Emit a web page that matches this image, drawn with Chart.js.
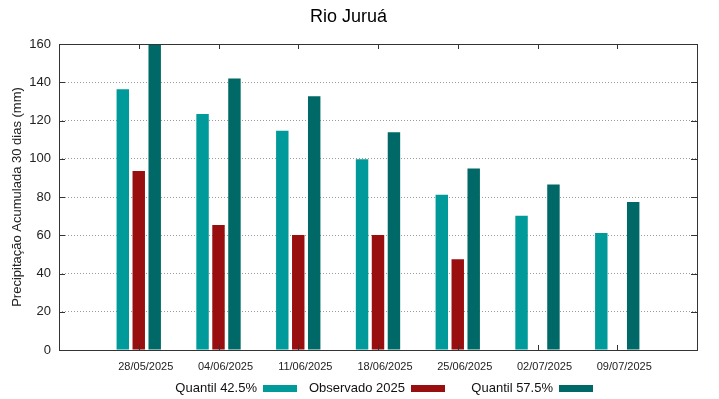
<!DOCTYPE html>
<html>
<head>
<meta charset="utf-8">
<script src="https://cdn.jsdelivr.net/npm/chart.js"></script>
<style>
  html, body { margin: 0; padding: 0; background: #fff; }
  #wrap { width: 719px; height: 399px; }
</style>
</head>
<body>
<div id="wrap"><canvas id="chart" width="719" height="399"></canvas></div>
<script>
// =============== data ===============
const dates      = ["28/05/2025","04/06/2025","11/06/2025","18/06/2025","25/06/2025","02/07/2025","09/07/2025"];
const quantil425 = [136.3, 123.4, 114.6, 99.7, 81.2, 70.2, 61.2];
const observado  = [93.6, 65.4, 60.1, 60.1, 47.4, null, null];
const quantil575 = [159.5, 142.0, 132.7, 113.8, 94.9, 86.6, 77.4];
const yTicks     = [0, 20, 40, 60, 80, 100, 120, 140, 160];

const FONT = "'Liberation Sans', Arial, sans-serif";
const toPoints = arr => arr.map((v, i) => ({ x: i, y: v }));

// frame, inward tick marks and gnuplot-like legend (text then sample)
const gnuplotDecor = {
  id: "gnuplotDecor",
  afterDraw(chart) {
    const { ctx, chartArea: a, scales } = chart;
    ctx.save();
    ctx.strokeStyle = "#333";
    ctx.lineWidth = 1;
    ctx.setLineDash([]);
    ctx.strokeRect(Math.round(a.left) + 0.5, Math.round(a.top) + 0.5,
                   Math.round(a.right - a.left), Math.round(a.bottom - a.top));
    ctx.beginPath();
    yTicks.forEach(v => {
      const y = Math.round(scales.y.getPixelForValue(v)) + 0.5;
      ctx.moveTo(a.left, y);  ctx.lineTo(a.left + 6, y);
      ctx.moveTo(a.right, y); ctx.lineTo(a.right - 6, y);
    });
    dates.forEach((d, i) => {
      const x = Math.round(scales.x.getPixelForValue(i)) + 0.5;
      ctx.moveTo(x, a.top);    ctx.lineTo(x, a.top + 5);
      ctx.moveTo(x, a.bottom); ctx.lineTo(x, a.bottom - 5);
    });
    ctx.stroke();

    // legend
    ctx.font = "13px " + FONT;
    ctx.textBaseline = "middle";
    ctx.textAlign = "right";
    const ly = 388;
    chart.data.datasets.forEach((ds, i) => {
      const boxRight = a.left + 238 + i * 148;
      const boxLeft = boxRight - 34;
      ctx.fillStyle = "#111";
      ctx.fillText(ds.label, boxLeft - 6, ly);
      ctx.fillStyle = ds.backgroundColor;
      ctx.fillRect(boxLeft, ly - 3, 34, 7);
    });
    ctx.restore();
  }
};

const ctx = document.getElementById("chart").getContext("2d");
new Chart(ctx, {
  type: "bar",
  data: {
    datasets: [
      { label: "Quantil 42.5%",  data: toPoints(quantil425), backgroundColor: "#009a9a" },
      { label: "Observado 2025", data: toPoints(observado),  backgroundColor: "#990f0f" },
      { label: "Quantil 57.5%",  data: toPoints(quantil575), backgroundColor: "#006866" },
    ],
  },
  options: {
    responsive: false,
    animation: false,
    categoryPercentage: 0.6,
    barPercentage: 0.78,
    layout: { padding: { left: 0, right: 22, top: 0, bottom: 0 } },
    plugins: {
      legend: { display: false },
      tooltip: { enabled: false },
      title: {
        display: true, text: "Rio Juruá", color: "#000",
        font: { family: FONT, size: 18, weight: "normal" },
        padding: { top: 6, bottom: 16.4 },
      },
    },
    scales: {
      x: {
        type: "linear", min: -1, max: 7, offset: false,
        grid: { display: false, drawTicks: false, offset: false },
        border: { display: false },
        afterFit(scale) { scale.height = 49; },
        afterBuildTicks(scale) { scale.ticks = dates.map((d, i) => ({ value: i })); },
        ticks: {
          autoSkip: false, maxRotation: 0, padding: 10, labelOffset: 7,
          color: "#222", font: { family: FONT, size: 11 },
          callback: v => dates[v] ?? "",
        },
      },
      y: {
        min: 0, max: 160,
        grid: { color: "#9a9a9a", lineWidth: 1, drawTicks: false },
        border: { display: false, dash: [1, 2] },
        afterFit(scale) { scale.width = 59; },
        ticks: {
          stepSize: 20, padding: 8, color: "#222",
          font: { family: FONT, size: 13 },
        },
        title: {
          display: true, text: "Precipitação Acumulada 30 dias (mm)", color: "#222",
          font: { family: FONT, size: 13 },
          padding: { top: 10, bottom: 0 },
        },
      },
    },
  },
  plugins: [gnuplotDecor],
});
</script>
</body>
</html>
